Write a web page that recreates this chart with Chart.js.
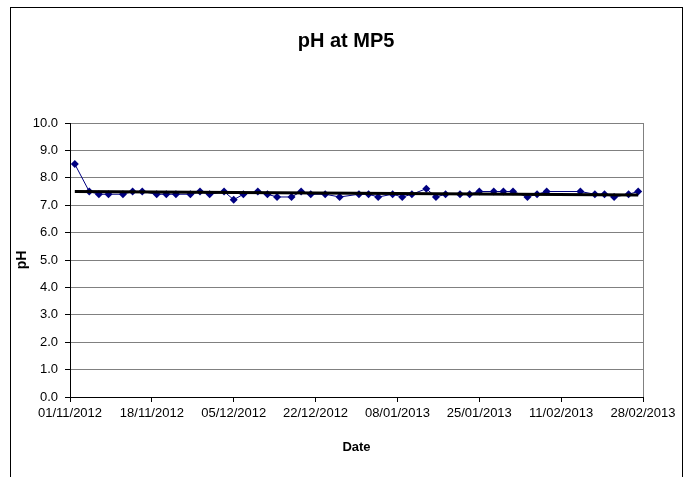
<!DOCTYPE html>
<html>
<head>
<meta charset="utf-8">
<script src="https://cdn.jsdelivr.net/npm/chart.js@4.4.1/dist/chart.umd.min.js"></script>
<style>
  body { margin: 0; background: #fff; }
  #wrap { width: 692px; height: 477px; }
</style>
</head>
<body>
<div id="wrap"><canvas id="phChart" width="692" height="477"></canvas></div>
<script>
  // sample dates (dd/mm/yyyy) and measured pH
  const sampleDates = [
    "02/11/2012", "05/11/2012", "07/11/2012", "09/11/2012", "12/11/2012", "14/11/2012",
    "16/11/2012", "19/11/2012", "21/11/2012", "23/11/2012", "26/11/2012", "28/11/2012",
    "30/11/2012", "03/12/2012", "05/12/2012", "07/12/2012", "10/12/2012", "12/12/2012",
    "14/12/2012", "17/12/2012", "19/12/2012", "21/12/2012", "24/12/2012", "27/12/2012",
    "31/12/2012", "02/01/2013", "04/01/2013", "07/01/2013", "09/01/2013", "11/01/2013",
    "14/01/2013", "16/01/2013", "18/01/2013", "21/01/2013", "23/01/2013", "25/01/2013",
    "28/01/2013", "30/01/2013", "01/02/2013", "04/02/2013", "06/02/2013", "08/02/2013",
    "15/02/2013", "18/02/2013", "20/02/2013", "22/02/2013", "25/02/2013", "27/02/2013"
  ];
  const phValues = [
    8.5, 7.5, 7.4, 7.4, 7.4, 7.5,
    7.5, 7.4, 7.4, 7.4, 7.4, 7.5,
    7.4, 7.5, 7.2, 7.4, 7.5, 7.4,
    7.3, 7.3, 7.5, 7.4, 7.4, 7.3,
    7.4, 7.4, 7.3, 7.4, 7.3, 7.4,
    7.6, 7.3, 7.4, 7.4, 7.4, 7.5,
    7.5, 7.5, 7.5, 7.3, 7.4, 7.5,
    7.5, 7.4, 7.4, 7.3, 7.4, 7.5
  ];
  const axisStart = "01/11/2012";
  const axisEnd = "28/02/2013";
  const dayStep = 17;
  const yTicks = [0, 1, 2, 3, 4, 5, 6, 7, 8, 9, 10];
  const chartTitle = "pH at MP5";

  const DAY = 86400000;
  function parseDate(s) {
    const p = s.split("/");
    return Date.UTC(+p[2], +p[1] - 1, +p[0]);
  }
  const origin = parseDate(axisStart);
  const toDay = s => Math.round((parseDate(s) - origin) / DAY);
  function dayLabel(d) {
    const dt = new Date(origin + d * DAY);
    const pad = n => String(n).padStart(2, "0");
    return pad(dt.getUTCDate()) + "/" + pad(dt.getUTCMonth() + 1) + "/" + dt.getUTCFullYear();
  }

  const points = sampleDates.map((s, i) => ({ x: toDay(s), y: phValues[i] }));

  // least squares linear trend, like the spreadsheet trendline
  const n = points.length;
  const mx = points.reduce((a, p) => a + p.x, 0) / n;
  const my = points.reduce((a, p) => a + p.y, 0) / n;
  let sxy = 0, sxx = 0;
  points.forEach(p => { sxy += (p.x - mx) * (p.y - my); sxx += (p.x - mx) * (p.x - mx); });
  const slope = sxy / sxx;
  const icpt = my - slope * mx;
  const xFirst = points[0].x, xLast = points[n - 1].x;
  const trend = [
    { x: xFirst, y: icpt + slope * xFirst },
    { x: xLast, y: icpt + slope * xLast }
  ];

  const FONT = "'Liberation Sans', Arial, sans-serif";

  const frame = {
    id: "frame",
    beforeDraw(chart) {
      const c = chart.ctx;
      c.save();
      c.fillStyle = "#fff";
      c.fillRect(0, 0, chart.width, chart.height);
      c.strokeStyle = "#000";
      c.lineWidth = 1;
      c.strokeRect(10.5, 7.5, 672, 480);
      // chart title, centred on the outer frame
      c.fillStyle = "#000";
      c.font = "bold 20px " + FONT;
      c.textAlign = "center";
      c.textBaseline = "middle";
      c.fillText(chartTitle, 346, 41);
      c.restore();
    },
    afterDatasetsDraw(chart) {
      const a = chart.chartArea;
      const c = chart.ctx;
      c.save();
      c.strokeStyle = "#808080";
      c.lineWidth = 1;
      c.beginPath();
      c.moveTo(Math.round(a.right) + 0.5, a.top);
      c.lineTo(Math.round(a.right) + 0.5, a.bottom);
      c.stroke();
      c.restore();
    }
  };

  Chart.defaults.font.family = FONT;
  Chart.defaults.font.size = 13;
  Chart.defaults.color = "#000";

  new Chart(document.getElementById("phChart"), {
    type: "scatter",
    data: {
      datasets: [
        {
          label: "Trend",
          data: trend,
          showLine: true,
          borderColor: "#000",
          borderWidth: 3,
          pointRadius: 0,
          order: 0
        },
        {
          label: "pH",
          data: points,
          showLine: true,
          borderColor: "#000080",
          backgroundColor: "#000080",
          borderWidth: 1,
          pointStyle: "rectRot",
          pointRadius: 4,
          pointBorderWidth: 0,
          order: 1
        }
      ]
    },
    options: {
      responsive: false,
      animation: false,
      devicePixelRatio: 1,
      layout: { padding: { left: 0, right: 49, top: 123, bottom: 0 } },
      plugins: {
        legend: { display: false },
        tooltip: { enabled: false },
        title: { display: false }
      },
      scales: {
        x: {
          type: "linear",
          min: toDay(axisStart),
          max: toDay(axisEnd),
          afterBuildTicks(scale) {
            const t = [];
            for (let d = scale.min; d <= scale.max; d += dayStep) t.push({ value: d });
            scale.ticks = t;
          },
          afterFit(scale) { scale.height = 80; },
          ticks: {
            autoSkip: false,
            maxRotation: 0,
            padding: 4,
            callback: v => dayLabel(v)
          },
          grid: { drawOnChartArea: false, drawTicks: true, tickLength: 5, tickColor: "#000" },
          border: { color: "#000", width: 1 },
          title: {
            display: true,
            text: "Date",
            font: { size: 13, weight: "bold" },
            padding: { top: 0, bottom: 22 }
          }
        },
        y: {
          min: 0,
          max: 10,
          afterBuildTicks(scale) { scale.ticks = yTicks.map(v => ({ value: v })); },
          afterFit(scale) { scale.width = 70; },
          ticks: {
            padding: 7,
            callback: v => v.toFixed(1)
          },
          grid: { color: "#808080", lineWidth: 1, tickLength: 5, tickColor: "#000" },
          border: { color: "#000", width: 1 },
          title: {
            display: true,
            text: "pH",
            font: { size: 14, weight: "bold" },
            padding: { top: 14, bottom: 0 }
          }
        }
      }
    },
    plugins: [frame]
  });
</script>
</body>
</html>
